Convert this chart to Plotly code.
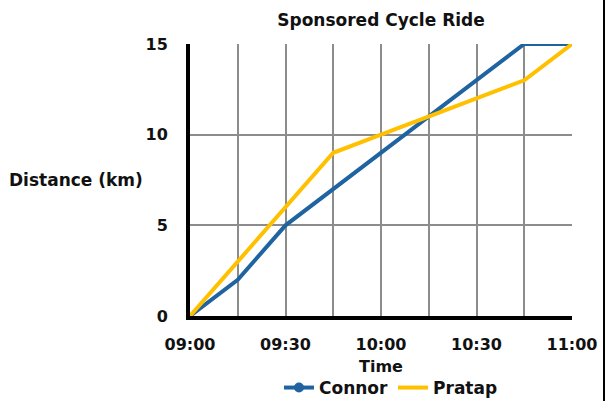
import plotly.graph_objects as go

times = ["2024-01-01 09:00", "2024-01-01 09:15", "2024-01-01 09:30", "2024-01-01 09:45",
         "2024-01-01 10:00", "2024-01-01 10:15", "2024-01-01 10:30", "2024-01-01 10:45",
         "2024-01-01 11:00"]
connor = [0, 2, 5, 7, 9, 11, 13, 15, 15]
pratap = [0, 3, 6, 9, 10, 11, 12, 13, 15]
x_tick_vals = ["2024-01-01 09:00", "2024-01-01 09:30", "2024-01-01 10:00",
               "2024-01-01 10:30", "2024-01-01 11:00"]
x_tick_text = ["09:00", "09:30", "10:00", "10:30", "11:00"]
y_tick_vals = [0, 5, 10, 15]

FONT = "DejaVu Sans"
BLUE = "#1F63A0"
GOLD = "#FFC000"
GRID = "#8C8C8C"
TXT = "#111111"

fig = go.Figure()
fig.add_trace(go.Scatter(
    x=times, y=connor, name="Connor", mode="lines+markers",
    line=dict(color=BLUE, width=4),
    marker=dict(size=10, color=BLUE, line=dict(width=0)),
    selectedpoints=[], unselected=dict(marker=dict(opacity=0)),
))
fig.add_trace(go.Scatter(
    x=times, y=pratap, name="Pratap", mode="lines",
    line=dict(color=GOLD, width=4),
))

W, H = 607, 401
L, R, T, B = 190, 35, 44, 85
PW, PH = W - L - R, H - T - B

fig.update_layout(
    width=W, height=H,
    margin=dict(l=L, r=R, t=T, b=B, autoexpand=False),
    paper_bgcolor="white", plot_bgcolor="white",
    font=dict(family=FONT, size=15, color=TXT, weight="bold"),
    title=dict(text="Sponsored Cycle Ride", x=0.5, xanchor="center", xref="paper",
               y=1 - 20 / H, yref="container", yanchor="middle",
               font=dict(family=FONT, size=17, color=TXT, weight="bold")),
    showlegend=True,
    legend=dict(orientation="h", x=(391 - L) / PW, xanchor="center", xref="paper",
                y=-(388 - (T + PH)) / PH, yanchor="middle",
                font=dict(family=FONT, size=17, color=TXT, weight="bold"),
                tracegroupgap=0),
    xaxis=dict(
        type="date",
        range=["2024-01-01 09:00", "2024-01-01 11:00"],
        tickvals=x_tick_vals, ticktext=x_tick_text,
        showgrid=True, gridcolor=GRID, gridwidth=1.5,
        minor=dict(dtick=15 * 60 * 1000, showgrid=True, gridcolor=GRID, gridwidth=1.5),
        showline=True, linecolor="black", linewidth=4,
        ticks="", zeroline=False, ticklabelstandoff=11,
        tickfont=dict(family=FONT, size=16, color=TXT, weight="bold"),
        title=dict(text="Time", standoff=9,
                   font=dict(family=FONT, size=16, color=TXT, weight="bold")),
    ),
    yaxis=dict(
        range=[0, 15], tickvals=y_tick_vals,
        showgrid=True, gridcolor=GRID, gridwidth=1.5,
        showline=True, linecolor="black", linewidth=4,
        ticks="", zeroline=False, ticklabelstandoff=15,
        tickfont=dict(family=FONT, size=16, color=TXT, weight="bold"),
    ),
)

fig.add_annotation(text="Distance (km)", xref="paper", yref="paper",
                   x=(76 - L) / PW, y=0.5, xanchor="center", yanchor="middle", showarrow=False,
                   font=dict(family=FONT, size=17, color=TXT, weight="bold"))

fig.add_shape(type="line", xref="paper", yref="paper",
              x0=(604 - L) / PW, x1=(604 - L) / PW, y0=(T + PH) / PH, y1=-(H - T - PH) / PH,
              line=dict(color="black", width=2))

fig.write_html("out.html",
               config={"displayModeBar": False},
               post_script="document.body.style.margin='0';document.body.style.overflow='hidden';")
